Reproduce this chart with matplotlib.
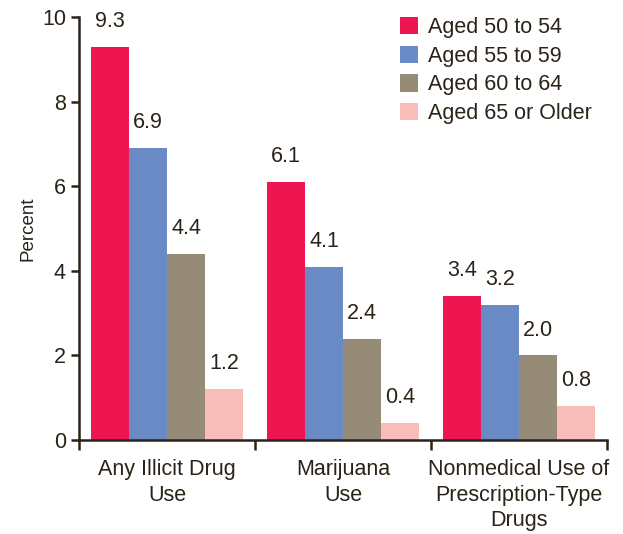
import numpy as np
import matplotlib.pyplot as plt

plt.rcParams['font.family'] = ['Liberation Sans', 'DejaVu Sans']

# 各年龄组使用率（%）
categories = ['Any Illicit Drug\nUse', 'Marijuana\nUse', 'Nonmedical Use of\nPrescription-Type\nDrugs']
age_groups = ['Aged 50 to 54', 'Aged 55 to 59', 'Aged 60 to 64', 'Aged 65 or Older']
aged_50_54 = [9.3, 6.1, 3.4]
aged_55_59 = [6.9, 4.1, 3.2]
aged_60_64 = [4.4, 2.4, 2.0]
aged_65_up = [1.2, 0.4, 0.8]

series = [aged_50_54, aged_55_59, aged_60_64, aged_65_up]
colors = ['#EE1651', '#6A8AC6', '#958B77', '#F8BDB8']
txt = '#2B2318'
fs = 15.5

fig = plt.figure(figsize=(6.23, 5.34), dpi=100)
ax = fig.add_axes([0.127, 0.176, 0.847, 0.792])

x = np.arange(len(categories))
w = 0.216
for i, (vals, c, lab) in enumerate(zip(series, colors, age_groups)):
    pos = x + (i - 1.5) * w
    bars = ax.bar(pos, vals, width=w, color=c, label=lab, zorder=2)
    for b, v in zip(bars, vals):
        ax.text(b.get_x() + b.get_width() / 2, v + 0.35, f'{v:.1f}',
                ha='center', va='bottom', fontsize=fs, color=txt)

ax.set_xlim(-0.5, 2.5)
ax.set_ylim(0, 10)
ax.set_yticks([0, 2, 4, 6, 8, 10])
ax.set_xticks([-0.5, 0.5, 1.5, 2.5])
ax.set_xticklabels([])
for xi, cat in zip(x, categories):
    ax.text(xi, -0.45, cat, ha='center', va='top', fontsize=fs, color=txt,
            linespacing=1.28)

ax.spines['top'].set_visible(False)
ax.spines['right'].set_visible(False)
for s in ['left', 'bottom']:
    ax.spines[s].set_color(txt)
    ax.spines[s].set_linewidth(1.8)
ax.tick_params(axis='both', direction='out', length=6, width=1.8,
               color=txt, labelcolor=txt, labelsize=fs)
ax.tick_params(axis='x', length=7)
ax.set_ylabel('Percent', fontsize=13.5, color=txt, labelpad=4)

leg = ax.legend(loc='upper left', bbox_to_anchor=(0.587, 1.025), frameon=False,
                fontsize=fs, handlelength=0.85, handleheight=0.85,
                handletextpad=0.45, labelspacing=0.35, borderpad=0)
for t in leg.get_texts():
    t.set_color(txt)

fig.savefig('out.png', dpi=100)
